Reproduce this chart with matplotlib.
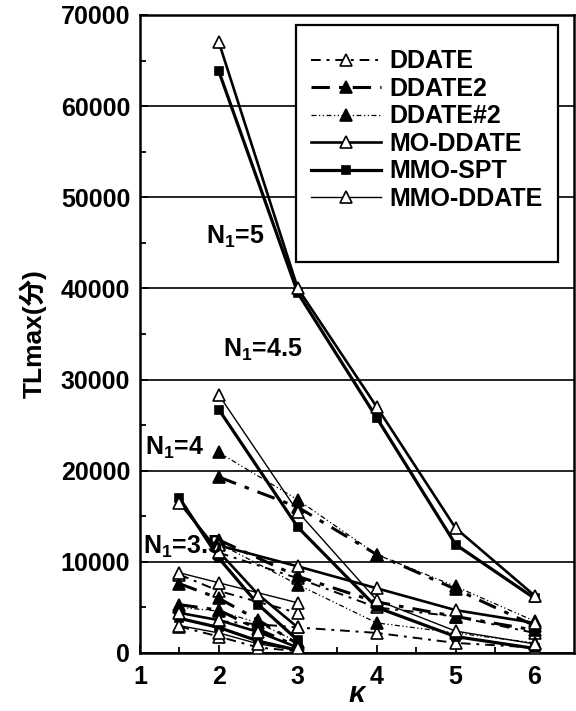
import matplotlib
matplotlib.use("Agg")
import matplotlib.pyplot as plt
from matplotlib.patches import Rectangle
from matplotlib.lines import Line2D

plt.rcParams['font.family'] = ['Liberation Sans', 'Noto Sans CJK JP', 'DejaVu Sans']
plt.rcParams['font.weight'] = 'bold'
plt.rcParams['mathtext.fontset'] = 'custom'
plt.rcParams['mathtext.rm'] = 'Liberation Sans:bold'
plt.rcParams['mathtext.bf'] = 'Liberation Sans:bold'
plt.rcParams['mathtext.it'] = 'Liberation Sans:italic:bold'

# ---------------- data ----------------
kappa_a = [2, 3, 4, 5, 6]
kappa_b = [1.5, 2, 2.5, 3]
kappa_c = [1.5, 2, 3]

mo_ddate_a = [67000, 40000, 27000, 13700, 6300]
mo_ddate_b = [11800, 9500, 7100, 4700, 3300]
mo_ddate_c = [16500, 11100, 6400, 2800]
mo_ddate_d = [4400, 3600, 2300, 600]

mmo_spt_a = [63800, 39500, 25800, 11900, 6000]
mmo_spt_b = [26700, 13800, 5000, 1800, 500]
mmo_spt_c = [17000, 10400, 5300, 1400]
mmo_spt_d = [3800, 2800, 1300, 300]

mmo_ddate_a = [28300, 15500, 5800, 2400, 1000]
mmo_ddate_c = [8800, 7700, 5500]
mmo_ddate_d = [3000, 2200, 1000, 300]

ddate_a = [11000, 8200, 5000, 4000, 2200]
ddate_c = [8600, 6800, 4400]
ddate_d = [2900, 1800, 600, 200]
ddate_e = [3500, 2800, 2200, 1100, 600]

ddate2_a = [19300, 16000, 10800, 7000, 3000]
ddate2_b = [12400, 8400, 5600, 4000, 2500]
ddate2_c = [7600, 6000, 3600, 1000]
ddate2_d = [5300, 4700, 2600, 700]

ddate_s2_a = [22000, 16800, 10800, 7300, 3500]
ddate_s2_b = [12000, 7500, 3300, 2200, 1100]
ddate_s2_c = [5000, 4600, 3300, 1200]

series_names = ['DDATE', 'DDATE2', 'DDATE#2', 'MO-DDATE', 'MMO-SPT', 'MMO-DDATE']
n1_labels = ['5', '4.5', '4', '3.5']
n1_pos_x = [1.84, 2.05, 1.06, 1.04]
n1_pos_y = [45700, 33300, 22500, 11650]

y_ticks = [0, 10000, 20000, 30000, 40000, 50000, 60000, 70000]
x_ticks = [1, 2, 3, 4, 5, 6]

# ---------------- styles ----------------
styles = {
    'DDATE':     dict(ls=(0, (5, 3, 1.5, 3)), lw=1.4, marker='^', mfc='white', mec='black', ms=8, z=4),
    'DDATE2':    dict(ls=(0, (6, 3, 1.5, 3)), lw=2.2, marker='^', mfc='black', mec='black', ms=8, z=4),
    'DDATE#2':   dict(ls=(0, (4, 2, 1, 2, 1, 2)), lw=0.9, marker='^', mfc='black', mec='black', ms=8, z=4),
    'MO-DDATE':  dict(ls='-', lw=1.9, marker='^', mfc='white', mec='black', ms=8, z=4.6),
    'MMO-SPT':   dict(ls='-', lw=2.3, marker='s', mfc='black', mec='black', ms=6, z=4.3),
    'MMO-DDATE': dict(ls='-', lw=1.0, marker='^', mfc='white', mec='black', ms=8, z=4.5),
}

lines = [
    ('DDATE', kappa_a, ddate_a), ('DDATE', kappa_c, ddate_c), ('DDATE', kappa_b, ddate_d), ('DDATE', kappa_a, ddate_e),
    ('DDATE2', kappa_a, ddate2_a), ('DDATE2', kappa_a, ddate2_b), ('DDATE2', kappa_b, ddate2_c), ('DDATE2', kappa_b, ddate2_d),
    ('DDATE#2', kappa_a, ddate_s2_a), ('DDATE#2', kappa_a, ddate_s2_b), ('DDATE#2', kappa_b, ddate_s2_c),
    ('MO-DDATE', kappa_a, mo_ddate_a), ('MO-DDATE', kappa_a, mo_ddate_b), ('MO-DDATE', kappa_b, mo_ddate_c), ('MO-DDATE', kappa_b, mo_ddate_d),
    ('MMO-SPT', kappa_a, mmo_spt_a), ('MMO-SPT', kappa_a, mmo_spt_b), ('MMO-SPT', kappa_b, mmo_spt_c), ('MMO-SPT', kappa_b, mmo_spt_d),
    ('MMO-DDATE', kappa_a, mmo_ddate_a), ('MMO-DDATE', kappa_c, mmo_ddate_c), ('MMO-DDATE', kappa_b, mmo_ddate_d),
]

fig = plt.figure(figsize=(5.76, 7.11), dpi=100)
ax = fig.add_axes([0.243, 0.0816, 0.7535, 0.8974])

for name, xs, ys in lines:
    st = styles[name]
    ax.plot(xs, ys, linestyle=st['ls'], lw=st['lw'], color='black', zorder=3)
    ax.plot(xs, ys, linestyle='none', marker=st['marker'], mfc=st['mfc'], mec=st['mec'],
            ms=st['ms'], mew=1.2, zorder=st['z'])

ax.set_xlim(1, 6.5)
ax.set_ylim(0, 70000)
ax.set_xticks(x_ticks)
ax.set_xticks([1.5, 2.5, 3.5, 4.5, 5.5], minor=True)
ax.set_yticks(y_ticks)
ax.set_yticks([5000, 15000, 25000, 35000, 45000, 55000, 65000], minor=True)
ax.set_xticklabels([str(v) for v in x_ticks], fontsize=18, fontweight='bold')
ax.set_yticklabels([str(v) for v in y_ticks], fontsize=18, fontweight='bold')
ax.tick_params(axis='both', which='major', direction='in', length=6, width=1.3, pad=7)
ax.tick_params(axis='both', which='minor', direction='in', length=4, width=1.3)
ax.tick_params(axis='x', which='major', pad=9)
ax.yaxis.grid(True, which='major', color='black', lw=1.2)
ax.set_axisbelow(True)
for sp in ax.spines.values():
    sp.set_linewidth(1.8)

ax.set_ylabel('TLmax(分)', fontsize=19, fontweight='bold', labelpad=10)
ax.set_xlabel('κ', fontsize=21, fontstyle='italic', fontweight='bold', labelpad=-7)

for lab, tx, ty in zip(n1_labels, n1_pos_x, n1_pos_y):
    ax.text(tx, ty, r'$\mathbf{N_1}$=' + lab, fontsize=18, fontweight='bold', va='center', ha='left', zorder=5)

# legend box
ax.add_patch(Rectangle((0.359, 0.613), 0.604, 0.371, transform=ax.transAxes,
                       facecolor='white', edgecolor='black', lw=1.6, zorder=6))
handles = []
for name in series_names:
    st = styles[name]
    handles.append(Line2D([], [], linestyle=st['ls'], lw=st['lw'], color='black', marker=st['marker'],
                          mfc=st['mfc'], mec=st['mec'], ms=st['ms'], mew=1.2))
leg = ax.legend(handles, series_names, loc='upper left', bbox_to_anchor=(0.395, 0.946),
                frameon=False, fontsize=18, handlelength=2.8, handletextpad=0.3,
                labelspacing=0.14, borderpad=0, borderaxespad=0, markerscale=1.0)
leg.set_zorder(7)
for t in leg.get_texts():
    t.set_fontweight('bold')

fig.savefig('out.png', dpi=100)
